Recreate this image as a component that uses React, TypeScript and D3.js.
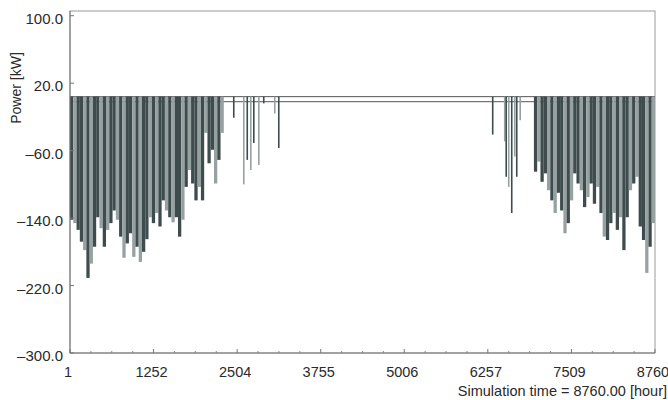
import React from "react";
import * as d3 from "d3";

// axis labels
const xTicks = [1, 1252, 2504, 3755, 5006, 6257, 7509, 8760];
const yTicks = [100, 20, -60, -140, -220, -300];

// hourly power, summarised as the minimum of each block (kW)
const binHours = 49;
const winterStartMin = [
  -142, -146, -154, -168, -178, -211, -194, -174, -139, -152, -174, -154,
  -146, -131, -142, -162, -187, -170, -158, -186, -174, -192, -180, -165,
  -139, -146, -134, -150, -119, -131, -139, -145, -139, -162, -142, -103,
  -83, -99, -119, -103, -119, -39, -75, -59, -99, -71, -39,
];
const winterEndMin = [
  -85, -73, -97, -87, -107, -119, -134, -110, -131, -158, -146, -119, -87,
  -99, -107, -127, -115, -99, -123, -103, -134, -162, -166, -146, -134, -154,
  -139, -178, -139, -107, -99, -91, -150, -166, -205, -174, -146,
];

// isolated cold spells in spring and autumn
const springHours = [2441, 2591, 2643, 2696, 2741, 2816, 2890, 3055, 3115];
const springMin = [-21, -100, -71, -83, -51, -77, -4, -16, -57];
const autumnHours = [6318, 6498, 6520, 6558, 6603, 6648, 6678, 6730];
const autumnMin = [-41, -49, -91, -103, -134, -67, -91, -24];

// standby band around zero
const standbyHigh = 4;
const standbyLow = -2;

const W = 668;
const H = 400;
const left = 70;
const right = 655;
const top = 11;
const bottom = 353;

const dark = "#3e4c4e";
const light = "#97a1a1";
const shades = [dark, light, dark, dark, light];
const font = "'Liberation Sans', Arial, sans-serif";

export default function App() {
  const x = d3.scaleLinear().domain([1, 8760]).range([left, right]);
  const y = d3.scaleLinear().domain([-300, 100]).range([bottom, 15.7]);

  const winterEndStart = 8760 - winterEndMin.length * binHours;

  const blockBar = (start: number, v: number, i: number, key: string) => {
    const x0 = x(start + i * binHours);
    const x1 = x(start + (i + 1) * binHours);
    return (
      <rect
        key={key + i}
        x={x0}
        width={x1 - x0}
        y={y(standbyHigh)}
        height={y(v) - y(standbyHigh)}
        fill={shades[i % shades.length]}
      />
    );
  };

  const spike = (h: number, v: number, i: number, key: string) => (
    <rect
      key={key + i}
      x={x(h)}
      width={x(h + 24) - x(h)}
      y={y(standbyHigh)}
      height={y(v) - y(standbyHigh)}
      fill={i % 2 === 0 ? dark : light}
    />
  );

  const minor: number[] = [];
  for (let k = 0; k < xTicks.length - 1; k++) {
    const step = (xTicks[k + 1] - xTicks[k]) / 4;
    for (let j = 1; j < 4; j++) minor.push(xTicks[k] + step * j);
  }

  return (
    <svg
      width={W}
      height={H}
      style={{ position: "absolute", left: 0, top: 0, background: "#fff" }}
      fontFamily={font}
    >
      <rect x={left} y={top} width={right - left} height={bottom - top} fill="none" stroke="#9a9a9a" />

      {/* standby band */}
      <line x1={left} x2={right} y1={y(standbyHigh)} y2={y(standbyHigh)} stroke="#555" />
      <line x1={left} x2={right} y1={y(standbyLow)} y2={y(standbyLow)} stroke="#555" />

      {winterStartMin.map((v, i) => blockBar(1, v, i, "ws"))}
      {winterEndMin.map((v, i) => blockBar(winterEndStart, v, i, "we"))}
      {springMin.map((v, i) => spike(springHours[i], v, i, "sp"))}
      {autumnMin.map((v, i) => spike(autumnHours[i], v, i, "au"))}

      {/* axes */}
      <line x1={left} x2={left} y1={top} y2={bottom} stroke="#777" />
      <line x1={left} x2={right} y1={bottom} y2={bottom} stroke="#777" />
      {minor.map((t) => (
        <line key={"m" + t} x1={x(t)} x2={x(t)} y1={bottom} y2={bottom - 2} stroke="#888" />
      ))}
      {xTicks.map((t) => (
        <g key={"x" + t}>
          <line x1={x(t)} x2={x(t)} y1={bottom} y2={bottom - 4} stroke="#777" />
          <text x={x(t) - 2} y={bottom + 24} textAnchor="middle" fontSize={14.5} fill="#2a2a2a">
            {t}
          </text>
        </g>
      ))}
      {yTicks.map((t) => (
        <g key={"y" + t}>
          <line x1={left} x2={left + 4} y1={y(t)} y2={y(t)} stroke="#777" />
          <text x={63} y={y(t) + 8} textAnchor="end" fontSize={15} fill="#2a2a2a">
            {t < 0 ? "\u2013" + Math.abs(t).toFixed(1) : t.toFixed(1)}
          </text>
        </g>
      ))}

      <text
        transform={`translate(21,${88}) rotate(-90)`}
        textAnchor="middle"
        fontSize={14}
        fill="#2a2a2a"
      >
        Power [kW]
      </text>
      <text x={667} y={396} textAnchor="end" fontSize={14.5} fill="#2a2a2a">
        Simulation time = 8760.00 [hour]
      </text>
    </svg>
  );
}
